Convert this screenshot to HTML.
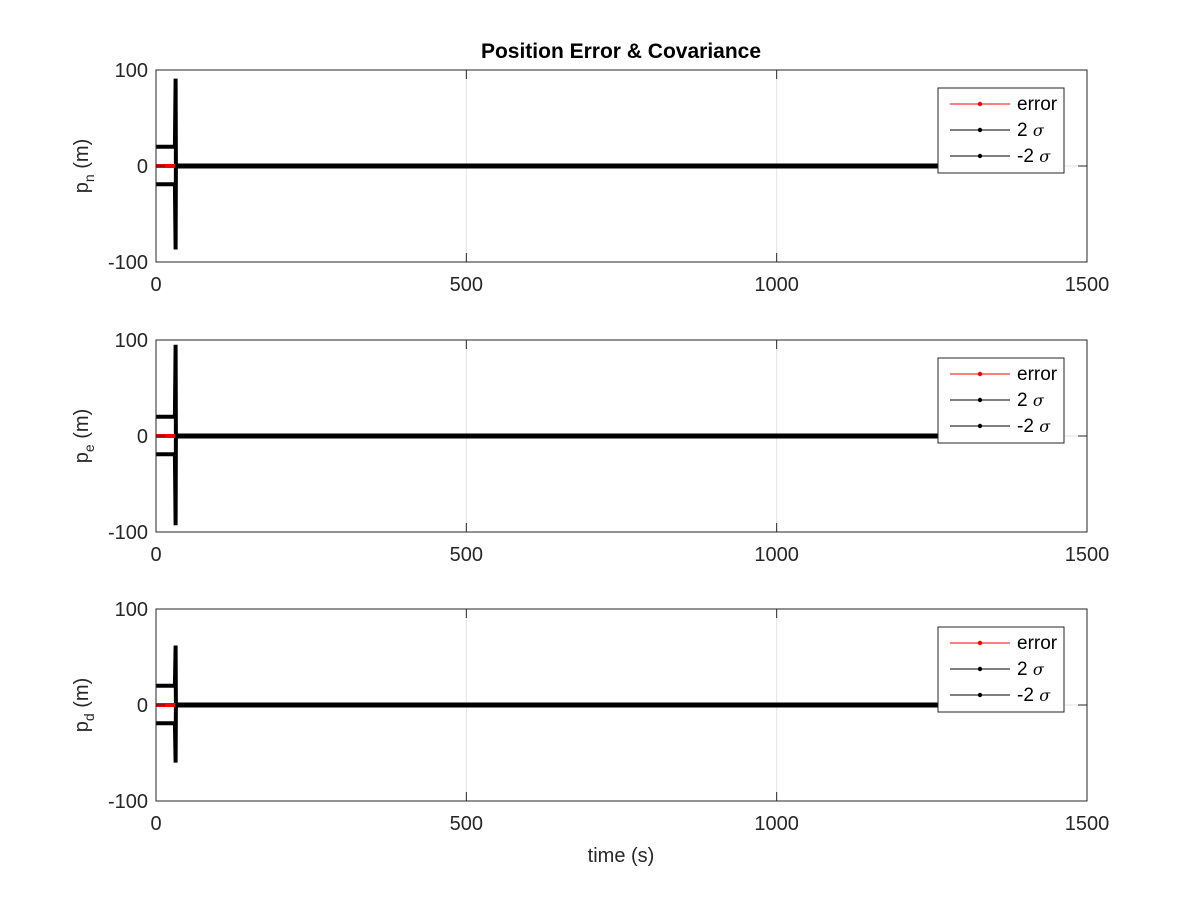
<!DOCTYPE html>
<html><head><meta charset="utf-8"><style>
body{margin:0;background:#fff}
svg text{font-family:"Liberation Sans",Arial,sans-serif}
</style></head><body>
<svg id="fig" width="1200" height="900" viewBox="0 0 1200 900">
<rect width="1200" height="900" fill="#fff"/>
<text x="621" y="58" text-anchor="middle" font-size="21" font-weight="bold">Position Error &amp; Covariance</text>
<text x="621" y="862" text-anchor="middle" font-size="20" fill="#262626">time (s)</text>
</svg>
<script>
const xTicks=[0,500,1000,1500];
const yTicks=[-100,0,100];
const subs=['n','e','d'];
const sigTimes=[0,30.5,31.5,32,1260];
const sigN=[20,20,91,0.5,0.5];
const sigE=[20,20,95,0.5,0.5];
const sigD=[20,20,62,0.5,0.5];
const negSigN=[-19,-19,-87,-0.5,-0.5];
const negSigE=[-19,-19,-93,-0.5,-0.5];
const negSigD=[-19,-19,-60,-0.5,-0.5];
const errTimes=[0,31];
const errVals=[0,0];
const sigs=[sigN,sigE,sigD],negs=[negSigN,negSigE,negSigD];
const tops=[70,340,609];
const X0=156,X1=1087,H=192;
const svg=document.getElementById('fig');
const NS='http://www.w3.org/2000/svg';
function mk(t,a,p){const e=document.createElementNS(NS,t);for(const k in a)e.setAttribute(k,a[k]);(p||svg).appendChild(e);return e;}
const xs=v=>X0+(v-0)/1500*(X1-X0);
subs.forEach((s,i)=>{
  const top=tops[i];
  const ys=v=>top+(100-v)/200*H;
  const g=mk('g',{});
  
  
  [500,1000].forEach(t=>{const l=mk('line',{x1:xs(t),x2:xs(t),y1:top,y2:top+H,stroke:'#e3e3e3','stroke-width':1},g);});
  mk('line',{x1:X0,x2:X1,y1:ys(0),y2:ys(0),stroke:'#e3e3e3','stroke-width':1},g);
  const c=mk('line',{x1:xs(31),x2:xs(31),y1:ys(sigs[i][0]),y2:ys(negs[i][0]),stroke:'#000','stroke-width':1},g);
  
  const path=(tt,vv)=>tt.map((t,k)=>(k?'L':'M')+xs(t).toFixed(1)+' '+ys(vv[k]).toFixed(1)).join(' ');
  const p1=mk('path',{d:path(sigTimes,sigs[i]),fill:'none',stroke:'#000','stroke-width':4},g);
  
  const p2=mk('path',{d:path(sigTimes,negs[i]),fill:'none',stroke:'#000','stroke-width':4},g);
  
  const p3=mk('path',{d:path(errTimes,errVals),fill:'none',stroke:'#f00','stroke-width':4},g);
  
  const ax=mk('rect',{x:X0,y:top,width:X1-X0,height:H,fill:'none',stroke:'#262626','stroke-width':1},g);
  
  xTicks.forEach(t=>{mk('line',{x1:xs(t),x2:xs(t),y1:top+H,y2:top+H-9,stroke:'#262626'},g);mk('line',{x1:xs(t),x2:xs(t),y1:top,y2:top+9,stroke:'#262626'},g);
    const tx=mk('text',{x:xs(t),y:top+H+29,'text-anchor':'middle','font-size':20,fill:'#262626'},g);tx.textContent=t;
    });
  yTicks.forEach(v=>{mk('line',{x1:X0,x2:X0+9,y1:ys(v),y2:ys(v),stroke:'#262626'},g);mk('line',{x1:X1,x2:X1-9,y1:ys(v),y2:ys(v),stroke:'#262626'},g);
    const tx=mk('text',{x:X0-8,y:ys(v)+7,'text-anchor':'end','font-size':20,fill:'#262626'},g);tx.textContent=v;
    });
  const yl=mk('text',{transform:`translate(88 ${top+H/2}) rotate(-90)`,'text-anchor':'middle','font-size':20,fill:'#262626'},g);
  yl.innerHTML='p<tspan font-size="14" dy="6">'+s+'</tspan><tspan dy="-6"> (m)</tspan>';
  
  const lg=mk('g',{},g);
  
  const ly=top+18;
  mk('rect',{x:938,y:ly,width:126,height:85,fill:'#fff',stroke:'#262626'},lg);
  [['error','#f00'],['2 σ','#000'],['-2 σ','#000']].forEach((e,k)=>{
    const yy=ly+16+k*26;
    mk('line',{x1:950,x2:1010,y1:yy,y2:yy,stroke:e[1],'stroke-width':1},lg);
    mk('circle',{cx:980,cy:yy,r:2.2,fill:e[1]},lg);
    const t=mk('text',{x:1017,y:yy+6,'font-size':19,fill:'#000'},lg);
    if(k==0)t.textContent='error';else t.innerHTML=(k==1?'2 ':'-2 ')+'<tspan font-family="DejaVu Serif" font-style="italic" font-size="16">σ</tspan>';
    
  });
});
</script>
</body></html>
